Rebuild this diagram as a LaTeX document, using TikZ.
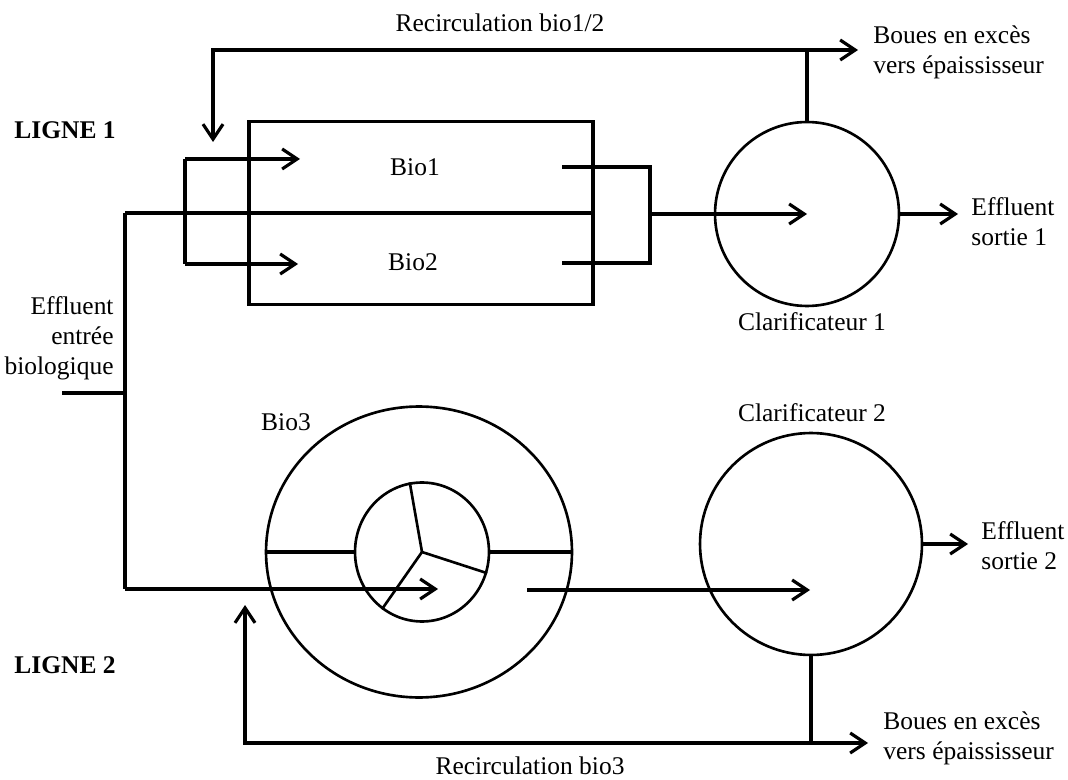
\documentclass[tikz,border=0pt]{standalone}
\usepackage{fontspec}
\setmainfont{Liberation Serif}
\usetikzlibrary{arrows.meta,shapes.geometric}

\begin{document}
\begin{tikzpicture}[x=0.02cm, y=-0.02cm, line width=1.8pt, >={Straight Barb[length=3mm,width=4mm]},
	every node/.style={font=\fontsize{14.5}{17}\selectfont},
	tank/.style={draw, line width=1.5pt, inner sep=0pt}]
	\useasboundingbox (0,0) rectangle (1068,780);
	% ligne 1
	\node[font=\fontsize{14.5}{17}\selectfont\bfseries] (ligne1) at (65,130) {LIGNE 1};
	\node[tank, line width=1.8pt, rectangle, minimum width=6.88cm, minimum height=3.66cm] (bio12) at (421,213) {};
	\node (bio1) at (415,167) {Bio1};
	\node (bio2) at (413,262) {Bio2};
	\node[tank, circle, minimum size=3.68cm] (clar1) at (807,214) {};
	\node (clar1lbl) at (812,322) {Clarificateur 1};
	\coordinate (in1) at (125,213);
	\coordinate (in) at (62,393);
	\coordinate (in2) at (125,589);
	\draw (in1) -- (bio12.east);
	\draw (185,159) -- (185,264);
	\draw[->] (185,159) -- (300,159);
	\draw[->] (185,264) -- (298,264);
	\draw (562,167) -| (650,263) -- (562,263);
	\draw[->] (650,214) -- (clar1.center);
	\coordinate (recirc1) at (213,142);
	\coordinate (boues1) at (858,50);
	\draw[<->] (recirc1) |- (boues1);
	\draw (clar1.north) -- (clar1.north |- boues1);
	\node (recirc1lbl) at (500,23) {Recirculation bio1/2};
	\node[anchor=west, align=left] (boues1lbl) at (866,52) {Boues en excès\\vers épaississeur};
	\coordinate (sortie1) at (958,214);
	\draw[->] (clar1.east) -- (sortie1);
	\node[anchor=west, align=left] (sortie1lbl) at (964,222) {Effluent\\sortie 1};
	% alimentation
	\draw (in1) -- (in2);
	\draw (in) -- (in -| in2);
	\node[anchor=east, align=right] (inlbl) at (121,338) {Effluent\\entrée\\biologique};
	% ligne 2
	\node[font=\fontsize{14.5}{17}\selectfont\bfseries] (ligne2) at (65,665) {LIGNE 2};
	\node[tank, ellipse, minimum width=6.12cm, minimum height=5.82cm] (bio3) at (419,552) {};
	\node[tank, ellipse, minimum width=2.68cm, minimum height=2.78cm] (bio3in) at (422,552) {};
	\node (bio3lbl) at (286,422) {Bio3};
	\draw (bio3.west) -- (bio3in.west);
	\draw (bio3in.east) -- (bio3.east);
	\foreach \a in {100,-18,235}
		\draw[line width=1.5pt] (bio3in.center) -- (bio3in.\a);
	\coordinate (bio3out) at (527,590);
	\coordinate (clar2in) at (810,590);
	\draw[->] (in2) -- (438,589);
	\draw[->] (bio3out) -- (clar2in);
	\node[tank, circle, minimum size=4.44cm] (clar2) at (811,544) {};
	\node (clar2lbl) at (812,413) {Clarificateur 2};
	\coordinate (sortie2) at (968,544);
	\draw[->] (clar2.east) -- (sortie2);
	\node[anchor=west, align=left] (sortie2lbl) at (974,546) {Effluent\\sortie 2};
	\coordinate (recirc3) at (245,605);
	\coordinate (boues3) at (868,743);
	\draw[<->] (recirc3) |- (boues3);
	\draw (clar2.south) -- (clar2.south |- boues3);
	\node (recirc3lbl) at (530,766) {Recirculation bio3};
	\node[anchor=west, align=left] (boues3lbl) at (876,738) {Boues en excès\\vers épaississeur};
\end{tikzpicture}
\end{document}
